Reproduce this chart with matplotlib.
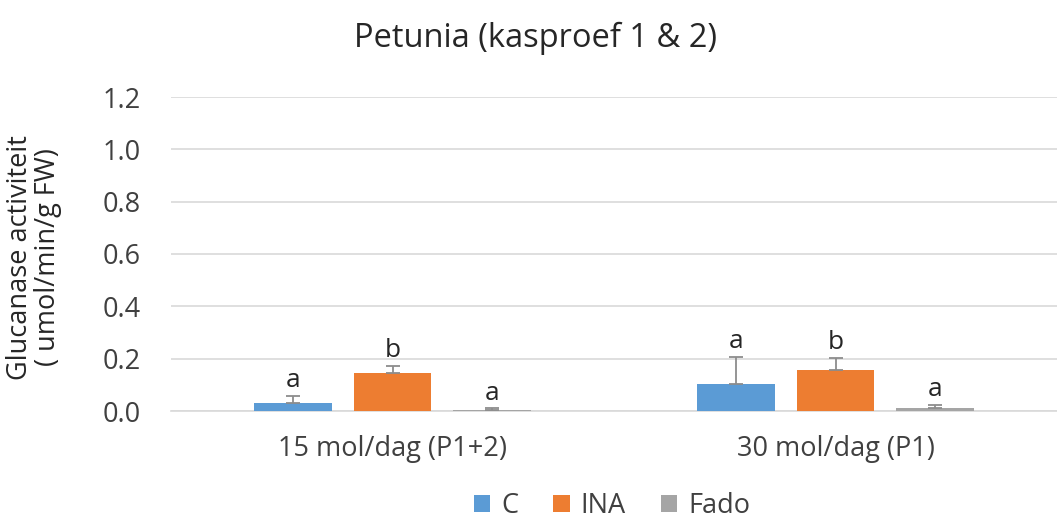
import numpy as np
import matplotlib.pyplot as plt

plt.rcParams['font.family'] = ['Open Sans', 'DejaVu Sans']

# data
categories = ['15 mol/dag (P1+2)', '30 mol/dag (P1)']
series = ['C', 'INA', 'Fado']
values = {
    'C':    [0.030, 0.103],
    'INA':  [0.145, 0.157],
    'Fado': [0.004, 0.012],
}
errors = {
    'C':    [0.028, 0.105],
    'INA':  [0.028, 0.046],
    'Fado': [0.006, 0.010],
}
letters = {
    'C':    ['a', 'a'],
    'INA':  ['b', 'b'],
    'Fado': ['a', 'a'],
}
colors = {'C': '#5B9BD5', 'INA': '#ED7D31', 'Fado': '#A5A5A5'}

fig = plt.figure(figsize=(10.57, 5.19), dpi=100)
ax = fig.add_axes([171/1057, 1 - 411/519, 1 - 171/1057 + 0.01, (411 - 97)/519])

x = np.arange(len(categories))
width = 0.175
step = 0.225
for i, s in enumerate(series):
    pos = x + (i - 1) * step
    ax.bar(pos, values[s], width, color=colors[s], label=s, zorder=3)
    ax.errorbar(pos, values[s], yerr=[np.zeros(2), errors[s]], fmt='none',
                ecolor='#8C8C8C', elinewidth=1.3, capsize=5, capthick=1.3, zorder=4)
    for p, v, e, t in zip(pos, values[s], errors[s], letters[s]):
        ax.annotate(t, (p, v + e), xytext=(0, 2), textcoords='offset points',
                    ha='center', va='bottom', fontsize=19, color='#262626')

ax.set_ylim(0, 1.2)
ax.set_yticks(np.arange(0, 1.21, 0.2))
ax.set_yticklabels(['%.1f' % v for v in np.arange(0, 1.21, 0.2)])
ax.set_xlim(-0.5, 1.5 + 0.01 * 2 / (1 - 171/1057))
ax.set_xticks(x)
ax.set_xticklabels(categories)
ax.tick_params(axis='both', length=0, labelsize=19.5, colors='#404040')
ax.tick_params(axis='x', pad=17)
ax.tick_params(axis='y', pad=22)
ax.grid(axis='y', color='#D9D9D9', linewidth=1.2, zorder=0)
for sp in ['top', 'right', 'left']:
    ax.spines[sp].set_visible(False)
ax.spines['bottom'].set_color('#D9D9D9')
ax.spines['bottom'].set_linewidth(1.2)

ax.set_ylabel('Glucanase activiteit\n( umol/min/g FW)', fontsize=19.5, color='#262626',
              linespacing=1.0)
ax.yaxis.set_label_coords(-0.122, 0.49)

fig.text(535/1057, 1 - 38/519, 'Petunia (kasproef 1 & 2)', ha='center', va='center',
         fontsize=23.5, color='#262626')

ax.legend(loc='center', bbox_to_anchor=(612/1057, 1 - 506/519), bbox_transform=fig.transFigure,
          ncol=3, frameon=False, fontsize=19.5, handlelength=0.6, handleheight=0.6,
          handletextpad=0.4, columnspacing=1.3, labelcolor='#404040')

fig.savefig('out.png', dpi=100)
